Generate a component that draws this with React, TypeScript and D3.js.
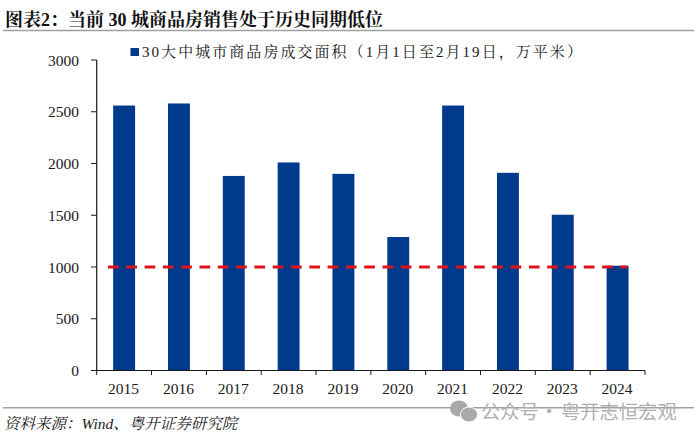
import React from "react";
import * as d3 from "d3";

const years = ["2015","2016","2017","2018","2019","2020","2021","2022","2023","2024"];
const areaValues = [2560,2580,1880,2010,1900,1290,2560,1910,1505,1012];
const yTicks = [0,500,1000,1500,2000,2500,3000];
const referenceLevel = 1000;
const titleText = "图表2：当前 30 城商品房销售处于历史同期低位";
const legendText = "30大中城市商品房成交面积（1月1日至2月19日，万平米）";
const sourceText = "资料来源：Wind、粤开证券研究院";
const watermarkLeft = "公众号";
const watermarkDot = "·";
const watermarkRight = "粤开志恒宏观";

const serif = "'Liberation Serif','Noto Serif CJK SC','Noto Sans CJK SC',serif";
const sans = "'Noto Sans CJK SC',sans-serif";
const barColor = "#003a8c";
const ink = "#1a1a1a";

export default function App() {
  const left = 96.7;
  const right = 645;
  const x = d3.scaleBand().domain(years).range([left, right]).paddingInner(0.6).paddingOuter(0.3);
  const xOuter = d3.scaleBand().domain(years).range([left, right]);
  const y = d3.scaleLinear().domain([0, 3000]).range([370.5, 60]);
  return (
    <svg width={700} height={440} style={{ position: "absolute", left: 0, top: 0, background: "#fff" }}>
      <text x={5} y={26} fontFamily={serif} fontSize={18} fontWeight={700} fill="#111">{titleText}</text>
      <line x1={3} x2={694} y1={30.5} y2={30.5} stroke="#a0a0a0" strokeWidth={1.6} />

      <rect x={130.5} y={48} width={8.5} height={8} fill={barColor} />
      <text x={142} y={57} fontFamily={serif} fontSize={15} letterSpacing={2.05} fill={ink}>{legendText}</text>

      {years.map((yr, i) => (
        <rect key={yr} x={x(yr)} y={y(areaValues[i])} width={x.bandwidth()} height={y(0) - y(areaValues[i])} fill={barColor} />
      ))}

      <line x1={left} x2={left} y1={y(3000)} y2={y(0)} stroke={ink} strokeWidth={1.2} />
      <line x1={left - 5.5} x2={right} y1={y(0)} y2={y(0)} stroke={ink} strokeWidth={1.2} />
      {yTicks.map((t) => (
        <g key={t}>
          <line x1={91} x2={left} y1={y(t)} y2={y(t)} stroke={ink} />
          <text x={79} y={y(t) + 5.5} textAnchor="end" fontFamily={serif} fontSize={15.5} fill={ink}>{t}</text>
        </g>
      ))}
      {years.map((yr) => (
        <line key={yr} x1={xOuter(yr)} x2={xOuter(yr)} y1={y(0)} y2={y(0) + 4.5} stroke={ink} />
      ))}
      <line x1={right} x2={right} y1={y(0)} y2={y(0) + 4.5} stroke={ink} />
      {years.map((yr) => (
        <text key={yr} x={xOuter(yr)! + xOuter.bandwidth() / 2 - 0.5} y={394} textAnchor="middle" fontFamily={serif} fontSize={15.5} fill={ink}>{yr}</text>
      ))}

      <line x1={108} x2={627} y1={y(referenceLevel)} y2={y(referenceLevel)} stroke="#e0131a" strokeWidth={3} strokeDasharray="10.7 7.6" />

      <line x1={3} x2={694} y1={407.7} y2={407.7} stroke="#a0a0a0" strokeWidth={1.6} />
      <text x={4} y={429} fontFamily={serif} fontSize={15.5} fontStyle="italic" fill={ink}>{sourceText}</text>

      <g fill="#a9a9a9">
        <ellipse cx={459} cy={408.5} rx={9} ry={8} />
        <ellipse cx={469} cy={414.5} rx={8.5} ry={7.5} stroke="#fff" />
      </g>
      <g fontFamily={sans} fontSize={19.3} fill="#b0b0b0">
        <text x={481} y={419}>{watermarkLeft}</text>
        <text x={539.5} y={419}>{watermarkDot}</text>
        <text x={561} y={419}>{watermarkRight}</text>
      </g>
    </svg>
  );
}
